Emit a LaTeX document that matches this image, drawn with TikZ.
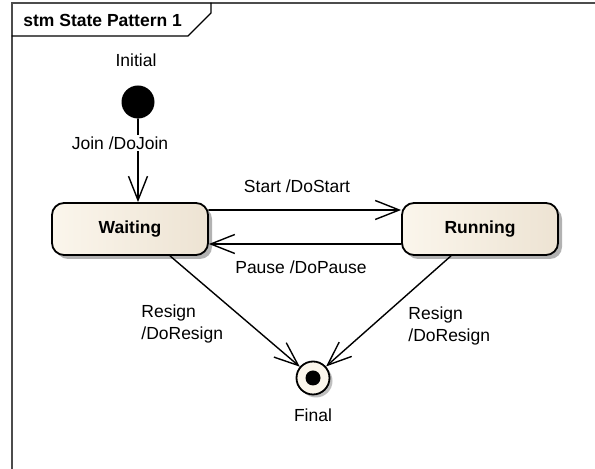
\documentclass[tikz,border=0pt]{standalone}
\usepackage{fontspec}
\setmainfont{Liberation Sans}
\usetikzlibrary{arrows.meta,shadows}
\definecolor{stateleft}{RGB}{251,246,236}
\definecolor{stateright}{RGB}{237,227,211}

\begin{document}
\begin{tikzpicture}[x=0.5pt,y=-0.5pt,>={Straight Barb[length=12pt,width=9.5pt]},font=\fontsize{8.75}{11}\selectfont,line cap=round,
  state/.style={draw,line width=0.9pt,rounded corners=6pt,minimum width=78pt,minimum height=26pt,left color=stateleft,right color=stateright,font=\fontsize{8.75}{11}\selectfont\bfseries,drop shadow={shadow xshift=2pt,shadow yshift=-2pt,fill=black!30,opacity=1}},
  trans/.style={->,line width=0.7pt},
  lbl/.style={inner sep=1pt,align=left}]
\useasboundingbox (0,0) rectangle (595,469);
\draw[black!70,line width=1pt] (12,469) -- (12,3) -- (595,3);
\draw[line width=0.6pt] (12,36) -- (188,36) -- (211,13) -- (211,3);
\node[anchor=west,inner sep=0pt,font=\fontsize{8.75}{11}\selectfont\bfseries] (title) at (23,20) {stm State Pattern 1};

\node[state] (wait) at (130,229) {Waiting};
\node[state] (run) at (480,229) {Running};
\node[circle,fill=black,minimum size=16.5pt,inner sep=0pt] (init) at (138,102) {};
\node[circle,draw,line width=0.9pt,fill=stateleft,minimum size=16.5pt,inner sep=0pt,drop shadow={shadow xshift=1.5pt,shadow yshift=-1.5pt,fill=black!25,opacity=1}] (fin) at (313,378) {};
\fill (fin.center) circle (3.75pt);
\node (initlbl) at (136,60) {Initial};
\node (finlbl) at (313,415) {Final};

\draw[trans] (init) -- (init |- wait.north);
\node[lbl,fill=white] (joinlbl) at (120,143) {Join /DoJoin};
\draw[trans] ([yshift=9.5pt]wait.east) -- ([yshift=9.5pt]run.west);
\node[lbl] (startlbl) at (297,186) {Start /DoStart};
\draw[trans] ([yshift=-7.5pt]run.west) -- ([yshift=-7.5pt]wait.east);
\node[lbl] (pauselbl) at (301,267) {Pause /DoPause};
\draw[trans] ([xshift=20pt]wait.south) -- (fin);
\node[lbl,anchor=west] (resignl) at (139,324) {Resign\\/DoResign};
\draw[trans] ([xshift=-14.5pt]run.south) -- (fin);
\node[lbl,anchor=west] (resignr) at (406,326) {Resign\\/DoResign};
\end{tikzpicture}
\end{document}
